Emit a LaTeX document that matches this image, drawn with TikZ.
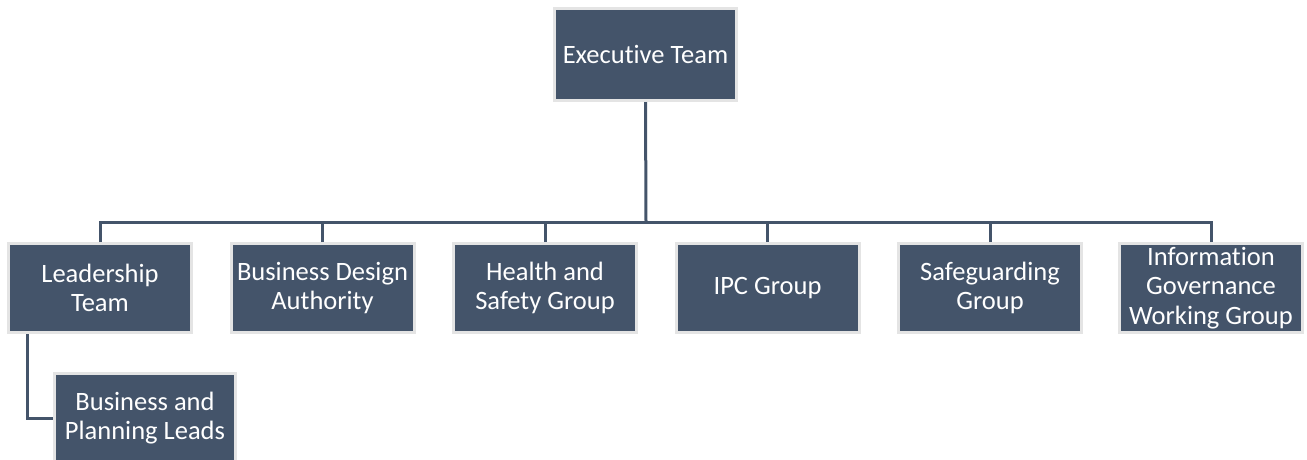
\documentclass[tikz,border=0pt]{standalone}
\usepackage{fontspec}
\setmainfont{Carlito}[Ligatures=NoCommon]
\definecolor{boxfill}{HTML}{44546A}
\definecolor{boxedge}{HTML}{E4E4E4}
\begin{document}
\begin{tikzpicture}[x=1pt,y=-1pt,
  orgbox/.style={draw=boxedge, line width=3pt, fill=boxfill, text=white,
    minimum width=183pt, minimum height=89pt, inner sep=0pt, align=center,
    font=\fontsize{26.5}{29.5}\selectfont},
  link/.style={draw=boxfill, line width=3pt}]
\useasboundingbox (0,0) rectangle (1307,459);
\node[orgbox, minimum width=182pt, minimum height=92pt] (exec) at (645.5,54.5) {Executive Team};
\node[orgbox] (lead) at (100,288) {Leadership\\Team};
\node[orgbox] (bda) at (322.5,288) {Business Design\\Authority};
\node[orgbox] (hsg) at (545,288) {Health and\\Safety Group};
\node[orgbox] (ipc) at (767.5,288) {IPC Group};
\node[orgbox] (safe) at (990,288) {Safeguarding\\Group};
\node[orgbox] (igwg) at (1211,288) {Information\\Governance\\Working Group};
\node[orgbox, minimum width=181pt] (leads) at (145,418) {Business and\\Planning Leads};
\coordinate (bus) at (646,222);
\coordinate (ltap) at (27,334);
\draw[link] (exec.south) -- (bus);
\foreach \n in {lead,bda,hsg,ipc,safe,igwg} \draw[link] (\n.north) |- (bus);
\draw[link] (ltap) |- (leads.west);
\end{tikzpicture}
\end{document}
